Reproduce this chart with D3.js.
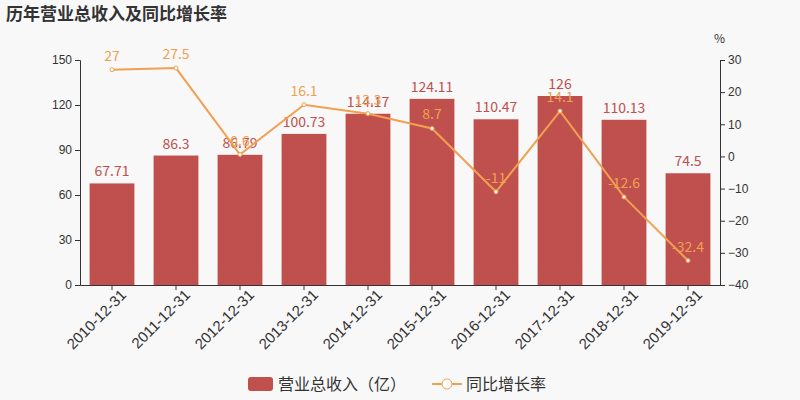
<!DOCTYPE html>
<html><head><meta charset="utf-8">
<script src="https://cdn.jsdelivr.net/npm/d3@7"></script>
<style>body{margin:0;background:#f8f8f8}svg{font-family:"Noto Sans CJK SC","DejaVu Sans",sans-serif}</style>
</head><body><div id="chart"></div>
<script>
var years = ["2010-12-31","2011-12-31","2012-12-31","2013-12-31","2014-12-31","2015-12-31","2016-12-31","2017-12-31","2018-12-31","2019-12-31"];
var revenue = [67.71, 86.3, 86.79, 100.73, 114.17, 124.11, 110.47, 126, 110.13, 74.5];
var growth = [27, 27.5, 0.6, 16.1, 13.3, 8.7, -11, 14.1, -12.6, -32.4];
var leftTicks = [0, 30, 60, 90, 120, 150];
var rightTicks = [-40, -30, -20, -10, 0, 10, 20, 30];

var width = 800, height = 400;
var barColor = "#c0504d", lineColor = "#f0a050";
var svg = d3.select("#chart").append("svg").attr("width", width).attr("height", height);
svg.append("rect").attr("width", width).attr("height", height).attr("fill", "#f8f8f8");

var x = d3.scaleBand().domain(years).range([80, 720]).paddingInner(0.3).paddingOuter(0.15);
var y = d3.scaleLinear().domain([0, 150]).range([285, 60]);
var y2 = d3.scaleLinear().domain([-40, 30]).range([285, 60]);

svg.append("text").attr("x", 6).attr("y", 20).attr("font-size", 17).attr("font-weight", "bold")
  .attr("fill", "#333").text("历年营业总收入及同比增长率");

var axL = svg.append("g").attr("transform", "translate(80,0)")
  .call(d3.axisLeft(y).tickValues(leftTicks).tickSize(5));
var axR = svg.append("g").attr("transform", "translate(720,0)")
  .call(d3.axisRight(y2).tickValues(rightTicks).tickSize(5));
[axL, axR].forEach(a => {
  a.selectAll("path,line").attr("stroke", "#333");
  a.selectAll("text").attr("font-size", 12).attr("fill", "#333");
});
svg.append("text").attr("x", 714).attr("y", 43).attr("font-size", 12).attr("fill", "#333").text("%");

var axB = svg.append("g").attr("transform", "translate(0,285)")
  .call(d3.axisBottom(x).tickSize(5).tickSizeOuter(0));
axB.selectAll("path,line").attr("stroke", "#333");
axB.selectAll("text").attr("font-size", 15).attr("fill", "#333")
  .attr("text-anchor", "end").attr("dx", "0.2em").attr("dy", "0.7em")
  .attr("transform", "rotate(-45)");

svg.selectAll(".bar").data(revenue).join("rect")
  .attr("x", (d, i) => x(years[i])).attr("width", x.bandwidth())
  .attr("y", d => y(d)).attr("height", d => 285 - y(d)).attr("fill", barColor);
svg.selectAll(".blab").data(revenue).join("text")
  .attr("x", (d, i) => x(years[i]) + x.bandwidth() / 2).attr("y", d => y(d) - 7)
  .attr("text-anchor", "middle").attr("font-size", 14).attr("fill", barColor).text(d => d);

var cx = (d, i) => x(years[i]) + x.bandwidth() / 2;
svg.append("path").datum(growth)
  .attr("d", d3.line().x(cx).y(d => y2(d)))
  .attr("fill", "none").attr("stroke", lineColor).attr("stroke-width", 2);
svg.selectAll(".pt").data(growth).join("circle")
  .attr("cx", cx).attr("cy", d => y2(d)).attr("r", 2)
  .attr("fill", "#fff").attr("stroke", lineColor);
svg.selectAll(".glab").data(growth).join("text")
  .attr("x", cx).attr("y", d => y2(d) - 9)
  .attr("text-anchor", "middle").attr("font-size", 14).attr("fill", lineColor).text(d => d);

var lg = svg.append("g").attr("transform", "translate(248,377)");
lg.append("rect").attr("width", 25).attr("height", 14).attr("rx", 3).attr("fill", barColor);
lg.append("text").attr("x", 30).attr("y", 13).attr("font-size", 16).attr("fill", "#333").text("营业总收入（亿）");
lg.append("line").attr("x1", 184).attr("x2", 214).attr("y1", 7).attr("y2", 7).attr("stroke", lineColor).attr("stroke-width", 2);
lg.append("circle").attr("cx", 199).attr("cy", 7).attr("r", 5).attr("fill", "#fff").attr("stroke", lineColor);
lg.append("text").attr("x", 218).attr("y", 13).attr("font-size", 16).attr("fill", "#333").text("同比增长率");
</script></body></html>
